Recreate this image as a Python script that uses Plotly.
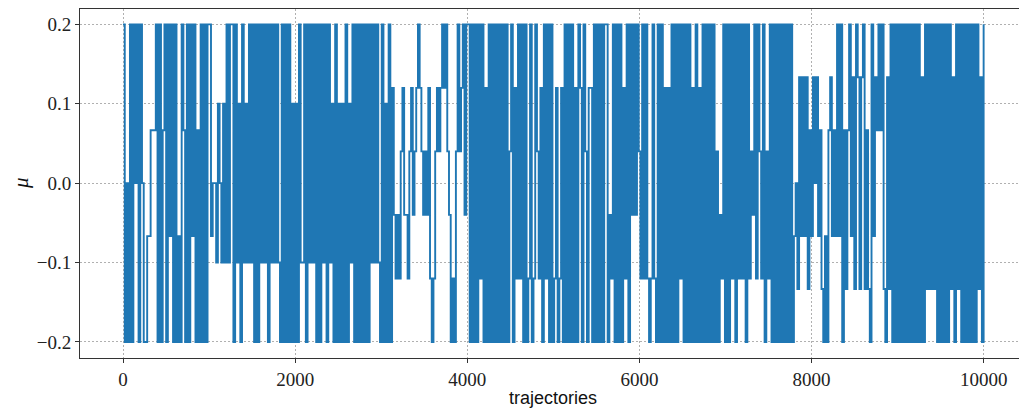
import numpy as np
import plotly.graph_objects as go

# level codes (grid of mu values visited by the chain)
LEVELS = {
    'a': 0.2, 'b': 2 / 15, 'c': 0.12, 'd': 0.1, 'e': 1 / 15, 'f': 0.04, '0': 0.0,
    'F': -0.04, 'E': -1 / 15, 'D': -0.1, 'C': -0.12, 'B': -2 / 15, 'A': -0.2,
}

# mu sampled every ~20 trajectories, one string per 1000 trajectories
SERIES_CODES = [
    "aA0AaAa0aA" "a0AAEEeeea" "AaAeaAaEaA" "aAEAaeAaAa" "EaAeAaAaAa",
    "aE00Dd0DdD" "aDaaAaDdAa" "DdDaDaAaAa" "DaDaAaDaDa" "DAaAaAaAdA",
    "dAaDDaAaDa" "DaAaAaDaAa" "DdAaAdAdAa" "AdDaAaAaAa" "AaAaDaDaDA",
    "aAdAaAcFCF" "CfcFFCfcFf" "cacfFfFcCA" "CfcfcacafF" "ACAfafcaFa",
    "aAaAaAaCaA" "cAaAaAaAaA" "aAaAfaAcCa" "CaAaACaACa" "fCcAaCaAaA",
    "CcACcAaAaA" "aAcAacAafA" "ccAaAaAaAa" "aAFCaAaAaA" "cCaAaFaFaf",
    "CaCaCACaCA" "aAaAcAcAaA" "aAaCaAaAaA" "cAaAcAaAaA" "aAaAfAFCaA",
    "aAaCaAaCaC" "aAaCfFaCaf" "CaAfCaAaAa" "AaAaAaAaAE" "0BbEbEbBeE",
    "b0bEeBAEAe" "bEeEaEaAeB" "eaEbBabBba" "BeBAaEbeae" "aBAbBaAaAa",
    "AaAaAaAaAa" "AaAbAaBaBa" "BaAaAaAaAa" "BbAaBaAaAa" "AaAaAaBbAa",
]
N_TRAJ = 10000
X_TICKS = [0, 2000, 4000, 6000, 8000, 10000]
Y_TICKS = [-0.2, -0.1, 0.0, 0.1, 0.2]
Y_TICKTEXT = ["\u22120.2", "\u22120.1", "0.0", "0.1", "0.2"]

codes = "".join(SERIES_CODES)
mu = [LEVELS[ch] for ch in codes]
traj = np.linspace(0, N_TRAJ - 1, len(mu))

fig = go.Figure()
fig.add_trace(go.Scatter(
    x=traj, y=mu, mode="lines",
    line=dict(color="#1f77b4", width=1.9, shape="hv", simplify=False),
    showlegend=False, hoverinfo="skip",
))

tick_font = dict(family="Liberation Serif, DejaVu Serif, serif", size=19, color="#222222")
grid_common = dict(
    showgrid=True, gridcolor="#b0b0b0", gridwidth=0.8, griddash="2px,2px",
    zeroline=False, showline=True, linecolor="#333333", linewidth=1,
    ticks="outside", ticklen=4, tickwidth=1, tickcolor="#333333",
    tickfont=tick_font,
)

fig.update_layout(
    width=1019, height=409,
    margin=dict(l=80, r=0, t=9, b=51),
    paper_bgcolor="white", plot_bgcolor="white",
    xaxis=dict(range=[-500, 10410], tickvals=X_TICKS,
               ticktext=[str(v) for v in X_TICKS], mirror=True, **grid_common),
    yaxis=dict(range=[-0.2202, 0.2193], tickvals=Y_TICKS, ticktext=Y_TICKTEXT,
               mirror=False, **grid_common),
    annotations=[
        dict(text="trajectories", xref="paper", yref="paper",
             x=(553 - 80) / 939, y=-(398 - 358) / 349, xanchor="center", yanchor="middle",
             showarrow=False, font=dict(family="Liberation Sans, Arial, sans-serif", size=18, color="#111111")),
        dict(text="<i>\u03bc</i>", xref="paper", yref="paper",
             x=-(80 - 21) / 939, y=(358 - 183) / 349, xanchor="center", yanchor="middle",
             textangle=-90, showarrow=False,
             font=dict(family="Liberation Serif, DejaVu Serif, serif", size=21, color="#111111")),
    ],
)

fig.write_html("out.html")
